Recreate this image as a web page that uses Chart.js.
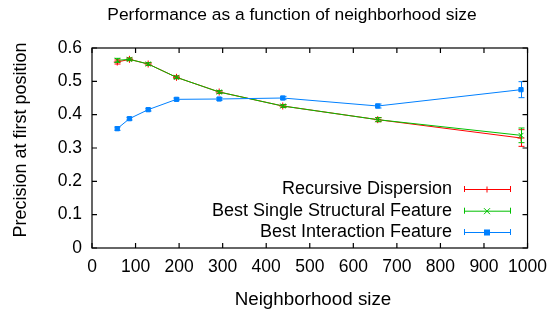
<!DOCTYPE html>
<html><head><meta charset="utf-8">
<script src="https://cdn.jsdelivr.net/npm/chart.js@4.4.0/dist/chart.umd.min.js"></script>
<style>html,body{margin:0;padding:0;background:#fff}#wrap{width:556px;height:311px}</style>
</head><body><div id="wrap"><canvas id="c" width="556" height="311"></canvas></div>
<script>
const neighborhoodSize = [58, 86, 129, 194, 292, 438, 656, 985];
const recursiveDispersion = [0.558, 0.566, 0.552, 0.512, 0.468, 0.426, 0.385, 0.330];
const recursiveErr = [0.006, 0.004, 0.004, 0.004, 0.004, 0.004, 0.006, 0.025];
const bestStructural = [0.563, 0.566, 0.552, 0.512, 0.468, 0.426, 0.385, 0.338];
const structuralErr = [0.006, 0.004, 0.004, 0.004, 0.004, 0.004, 0.006, 0.022];
const bestInteraction = [0.358, 0.388, 0.415, 0.446, 0.447, 0.450, 0.426, 0.475];
const interactionErr = [0.005, 0.004, 0.004, 0.004, 0.004, 0.005, 0.006, 0.024];
const xTicks = [0,100,200,300,400,500,600,700,800,900,1000];
const yTicks = [0,0.1,0.2,0.3,0.4,0.5,0.6];
const seriesNames = ['Recursive Dispersion','Best Single Structural Feature','Best Interaction Feature'];
const colors = ['#ff0000','#00c000','#0080ff'];
const FONT = 'Liberation Sans, Arial, sans-serif';

function pts(xs, ys){ return xs.map((x,i)=>({x:x,y:ys[i]})); }
const errs = [recursiveErr, structuralErr, interactionErr];

const frame = {
  id:'frame',
  afterDatasetsDraw(chart){
    const ctx = chart.ctx, a = chart.chartArea, xs = chart.scales.x, ys = chart.scales.y;
    ctx.save();
    // error bars
    chart.data.datasets.forEach((ds,di)=>{
      ctx.strokeStyle = colors[di]; ctx.lineWidth = 1;
      ds.data.forEach((p,i)=>{
        const px = Math.round(xs.getPixelForValue(p.x))+0.5;
        const e = errs[di][i];
        const y1 = ys.getPixelForValue(p.y - e), y2 = ys.getPixelForValue(p.y + e);
        ctx.beginPath();
        ctx.moveTo(px,y1); ctx.lineTo(px,y2);
        ctx.moveTo(px-3,y1); ctx.lineTo(px+3,y1);
        ctx.moveTo(px-3,y2); ctx.lineTo(px+3,y2);
        ctx.stroke();
      });
    });
    // border
    ctx.strokeStyle = '#000'; ctx.lineWidth = 1.2;
    ctx.strokeRect(a.left, a.top, a.right-a.left, a.bottom-a.top);
    // inward ticks
    ctx.beginPath();
    xTicks.forEach(v=>{
      const px = xs.getPixelForValue(v);
      ctx.moveTo(px,a.bottom); ctx.lineTo(px,a.bottom-5);
      ctx.moveTo(px,a.top); ctx.lineTo(px,a.top+5);
    });
    yTicks.forEach(v=>{
      const py = ys.getPixelForValue(v);
      ctx.moveTo(a.left,py); ctx.lineTo(a.left+5,py);
      ctx.moveTo(a.right,py); ctx.lineTo(a.right-5,py);
    });
    ctx.stroke();
    // legend
    ctx.font = '18px ' + FONT; ctx.textAlign='right'; ctx.textBaseline='middle'; ctx.fillStyle='#000';
    const rows = [189, 210.7, 232];
    seriesNames.forEach((n,i)=>{
      const y = rows[i];
      ctx.fillStyle='#000';
      ctx.fillText(n, 452, y);
      ctx.strokeStyle = colors[i]; ctx.lineWidth=1;
      ctx.beginPath();
      ctx.moveTo(464,y+0.5); ctx.lineTo(510,y+0.5);
      ctx.moveTo(464.5,y-3); ctx.lineTo(464.5,y+3);
      ctx.moveTo(510.5,y-3); ctx.lineTo(510.5,y+3);
      ctx.stroke();
      const mx = 487, my = y+0.5;
      ctx.beginPath();
      if(i===0){ ctx.moveTo(mx-3,my); ctx.lineTo(mx+3,my); ctx.moveTo(mx,my-3); ctx.lineTo(mx,my+3); ctx.stroke(); }
      else if(i===1){ ctx.moveTo(mx-3,my-3); ctx.lineTo(mx+3,my+3); ctx.moveTo(mx-3,my+3); ctx.lineTo(mx+3,my-3); ctx.stroke(); }
      else { ctx.fillStyle=colors[i]; ctx.fillRect(mx-3,my-3,6,6); }
    });
    // title and axis titles
    ctx.fillStyle='#000'; ctx.textAlign='center';
    ctx.font = '17.4px ' + FONT;
    ctx.fillText('Performance as a function of neighborhood size', 292, 15);
    ctx.font = '18.8px ' + FONT;
    ctx.fillText('Neighborhood size', 313, 300);
    ctx.font = '18px ' + FONT;
    ctx.translate(21, 140); ctx.rotate(-Math.PI/2);
    ctx.fillText('Precision at first position', 0, 0);
    ctx.restore();
  }
};

new Chart(document.getElementById('c'), {
  type:'scatter',
  data:{ datasets:[
    {label:seriesNames[0], data:pts(neighborhoodSize, recursiveDispersion), showLine:true, borderColor:colors[0], backgroundColor:colors[0], borderWidth:1, pointStyle:'cross', pointRadius:3.5, pointBorderWidth:1, order:3},
    {label:seriesNames[1], data:pts(neighborhoodSize, bestStructural), showLine:true, borderColor:colors[1], backgroundColor:colors[1], borderWidth:1, pointStyle:'crossRot', pointRadius:3.5, pointBorderWidth:1, order:2},
    {label:seriesNames[2], data:pts(neighborhoodSize, bestInteraction), showLine:true, borderColor:colors[2], backgroundColor:colors[2], borderWidth:1, pointStyle:'rect', pointRadius:3, pointBorderWidth:1, order:1}
  ]},
  options:{
    responsive:false, animation:false, devicePixelRatio:1,
    layout:{padding:{top:48, right:25, left:0, bottom:0}},
    plugins:{legend:{display:false}, title:{display:false}, tooltip:{enabled:false}},
    scales:{
      x:{type:'linear', min:0, max:1000, afterFit(s){s.height=63;},
        afterBuildTicks(s){ s.ticks = xTicks.map(v=>({value:v})); },
        grid:{display:false, drawTicks:false}, border:{display:false},
        ticks:{padding:9, color:'#000', font:{family:FONT, size:17.5}, maxRotation:0, autoSkip:false, callback:v=>String(v)}},
      y:{type:'linear', min:0, max:0.6, afterFit(s){s.width=92;},
        afterBuildTicks(s){ s.ticks = yTicks.map(v=>({value:v})); },
        grid:{display:false, drawTicks:false}, border:{display:false},
        ticks:{padding:10, color:'#000', font:{family:FONT, size:17.5}, callback:v=>String(+v.toFixed(1))}}
    }
  },
  plugins:[frame]
});
</script></body></html>
